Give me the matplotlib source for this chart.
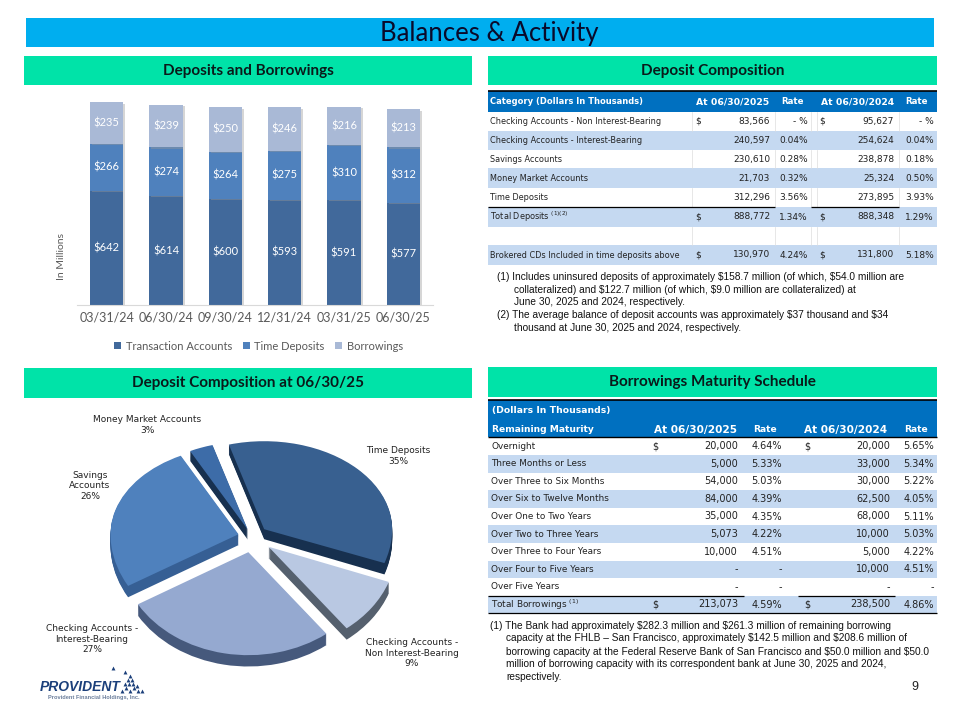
import numpy as np
import matplotlib
matplotlib.use('Agg')
import matplotlib.pyplot as plt
import matplotlib.patheffects as pe
from matplotlib.patches import Rectangle

# bar chart data
dates = ['03/31/24', '06/30/24', '09/30/24', '12/31/24', '03/31/25', '06/30/25']
transaction = [642, 614, 600, 593, 591, 577]
time_dep = [266, 274, 264, 275, 310, 312]
borrowings = [235, 239, 250, 246, 216, 213]

# pie data
pie_names = ['Time Deposits', 'Checking Accounts -\nNon Interest-Bearing',
             'Checking Accounts -\nInterest-Bearing', 'Savings\nAccounts', 'Money Market Accounts']
pie_vals = [35, 9, 27, 26, 3]

# deposit table
dep_header = ['Category (Dollars In Thousands)', 'At 06/30/2025', 'Rate', 'At 06/30/2024', 'Rate']
dep_names = ['Checking Accounts - Non Interest-Bearing', 'Checking Accounts - Interest-Bearing',
             'Savings Accounts', 'Money Market Accounts', 'Time Deposits', 'Total Deposits $^{(1)(2)}$',
             '', 'Brokered CDs Included in time deposits above']
dep_2025 = ['83,566', '240,597', '230,610', '21,703', '312,296', '888,772', '', '130,970']
dep_rate25 = ['- %', '0.04%', '0.28%', '0.32%', '3.56%', '1.34%', '', '4.24%']
dep_2024 = ['95,627', '254,624', '238,878', '25,324', '273,895', '888,348', '', '131,800']
dep_rate24 = ['- %', '0.04%', '0.18%', '0.50%', '3.93%', '1.29%', '', '5.18%']
dep_dollar = [0, 5, 7]

# borrowings table
bor_header = ['Remaining Maturity', 'At 06/30/2025', 'Rate', 'At 06/30/2024', 'Rate']
bor_names = ['Overnight', 'Three Months or Less', 'Over Three to Six Months', 'Over Six to Twelve Months',
             'Over One to Two Years', 'Over Two to Three Years', 'Over Three to Four Years',
             'Over Four to Five Years', 'Over Five Years', 'Total Borrowings $^{(1)}$']
bor_2025 = ['20,000', '5,000', '54,000', '84,000', '35,000', '5,073', '10,000', '-', '-', '213,073']
bor_rate25 = ['4.64%', '5.33%', '5.03%', '4.39%', '4.35%', '4.22%', '4.51%', '-', '-', '4.59%']
bor_2024 = ['20,000', '33,000', '30,000', '62,500', '68,000', '10,000', '5,000', '10,000', '-', '238,500']
bor_rate24 = ['5.65%', '5.34%', '5.22%', '4.05%', '5.11%', '5.03%', '4.22%', '4.51%', '-', '4.86%']
bor_dollar = [0, 9]

dep_notes = ['(1) Includes uninsured deposits of approximately \\$158.7 million (of which, \\$54.0 million are',
             'collateralized) and \\$122.7 million (of which, \\$9.0 million are collateralized) at',
             'June 30, 2025 and 2024, respectively.',
             '(2) The average balance of deposit accounts was approximately \\$37 thousand and \\$34',
             'thousand at June 30, 2025 and 2024, respectively.']
bor_notes = ['(1) The Bank had approximately \\$282.3 million and \\$261.3 million of remaining borrowing',
             'capacity at the FHLB \u2013 San Francisco, approximately \\$142.5 million and \\$208.6 million of',
             'borrowing capacity at the Federal Reserve Bank of San Francisco and \\$50.0 million and \\$50.0',
             'million of borrowing capacity with its correspondent bank at June 30, 2025 and 2024,',
             'respectively.']

BAND = '#c5d9f1'
HEAD = '#0070c0'
GREEN = '#00e3a8'
INK = '#222222'

fig = plt.figure(figsize=(9.6, 7.2), dpi=100)

# full page axes in pixels, for the boxes, tables and notes
page = fig.add_axes([0, 0, 1, 1], zorder=0)
page.set_xlim(0, 960)
page.set_ylim(720, 0)
page.axis('off')


def box(x0, y0, x1, y1, color):
    page.add_patch(Rectangle((x0, y0), x1 - x0, y1 - y0, fc=color, ec='none'))


def hline(x0, x1, y, lw=1.0, color='black'):
    page.plot([x0, x1], [y, y], color=color, lw=lw, solid_capstyle='butt')


def notes(lines, y_list, x_first, x_rest):
    for line, y in zip(lines, y_list):
        x = x_first if line.startswith('(') else x_rest
        page.text(x, y, line, fontsize=7.3, family='Liberation Sans', va='center', color='#111111')


# title and section headers
box(26, 18, 934, 47, '#00aeef')
page.text(489, 33, 'Balances & Activity', fontsize=18.5, family='Lato', ha='center', va='center', color='#0a0a2a')
for x0, x1, y0, y1, name in [(24, 472, 56, 85, 'Deposits and Borrowings'),
                             (488, 937, 56, 85, 'Deposit Composition'),
                             (24, 472, 368, 398, 'Deposit Composition at 06/30/25'),
                             (488, 937, 367, 397, 'Borrowings Maturity Schedule')]:
    box(x0, y0, x1, y1, GREEN)
    page.text((x0 + x1) / 2, (y0 + y1) / 2, name, fontsize=11, family='Lato', weight='bold',
              ha='center', va='center', color='#0a1a1a')

# deposit composition table
box(488, 91, 937, 112, HEAD)
hline(488, 937, 91, 1.2)
for x, h, ha, fs in zip([490, 733, 792, 858, 917], dep_header, ['left'] + ['center'] * 4, [6, 6.7, 6.2, 6.7, 6.2]):
    page.text(x, 102, h, fontsize=fs, weight='bold', color='white', ha=ha, va='center')
dep_edges = [112, 130.7, 150, 168.3, 188, 207.3, 226.7, 245, 265]
for i, name in enumerate(dep_names):
    y0, y1 = dep_edges[i], dep_edges[i + 1]
    y = (y0 + y1) / 2
    if i % 2 == 1:
        box(488, y0, 937, y1, BAND)
    else:
        for x in [692, 775, 811, 817, 899]:
            page.plot([x, x], [y0, y1], color='#dddddd', lw=0.5)
    page.text(490, y, name, fontsize=5.9, va='center', color=INK)
    page.text(770, y, dep_2025[i], fontsize=6.5, ha='right', va='center', color=INK)
    page.text(808, y, dep_rate25[i], fontsize=6.5, ha='right', va='center', color=INK)
    page.text(894, y, dep_2024[i], fontsize=6.5, ha='right', va='center', color=INK)
    page.text(934, y, dep_rate24[i], fontsize=6.5, ha='right', va='center', color=INK)
    if i in dep_dollar:
        page.text(698, y, '\\$', fontsize=6.5, ha='center', va='center', color=INK)
        page.text(822, y, '\\$', fontsize=6.5, ha='center', va='center', color=INK)
hline(488, 775, 207.3, 0.9)
hline(811, 899, 207.3, 0.9)
notes(dep_notes, [276.7, 290, 302.3, 315, 328.3], 497, 514)

# borrowings table
box(488, 400, 937, 437.3, HEAD)
hline(488, 937, 400, 1.2)
hline(488, 937, 437.3, 1.0)
page.text(492, 411, '(Dollars In Thousands)', fontsize=6.7, weight='bold', color='white', va='center')
for x, h, ha, fs in zip([492, 696, 765, 846, 916], bor_header, ['left'] + ['center'] * 4, [6.6, 7.6, 6.6, 7.6, 6.6]):
    page.text(x, 430, h, fontsize=fs, weight='bold', color='white', ha=ha, va='center')
row_h = 17.6
for i, name in enumerate(bor_names):
    y0 = 437.3 + i * row_h
    y = y0 + row_h / 2
    if i % 2 == 1:
        box(488, y0, 937, y0 + row_h, BAND)
    page.text(491, y, name, fontsize=6.4, va='center', color=INK)
    page.text(738, y, bor_2025[i], fontsize=7, ha='right', va='center', color=INK)
    page.text(782, y, bor_rate25[i], fontsize=7, ha='right', va='center', color=INK)
    page.text(890, y, bor_2024[i], fontsize=7, ha='right', va='center', color=INK)
    page.text(934, y, bor_rate24[i], fontsize=7, ha='right', va='center', color=INK)
    if i in bor_dollar:
        page.text(655, y, '\\$', fontsize=7, ha='center', va='center', color=INK)
        page.text(807, y, '\\$', fontsize=7, ha='center', va='center', color=INK)
hline(488, 744, 437.3 + 9 * row_h, 0.9)
hline(798, 895, 437.3 + 9 * row_h, 0.9)
hline(488, 937, 437.3 + 10 * row_h, 0.9)
notes(bor_notes, [625.7, 638.3, 651.7, 664, 676.7], 490, 506)

page.text(915, 687, '9', fontsize=9, family='Liberation Sans', ha='center', va='center', color=INK)
page.text(62, 256, 'In Millions', fontsize=7.5, family='Lato', rotation=90, ha='center', va='center', color='#595959')

# stacked bars
ax = fig.add_axes([77 / 960, 1 - 305 / 720, 356 / 960, 213 / 720], zorder=1)
ax.patch.set_alpha(0)
x_pos = np.arange(len(dates))
series = [('Transaction Accounts', transaction, '#41699b'),
          ('Time Deposits', time_dep, '#4f81bd'),
          ('Borrowings', borrowings, '#a9b9d6')]
bottom = np.zeros(len(dates))
all_bars = []
for name, vals, col in series:
    bars = ax.bar(x_pos, vals, 0.56, bottom=bottom, color=col, label=name)
    all_bars.extend(bars)
    for x, v, b0 in zip(x_pos, vals, bottom):
        ax.text(x, b0 + v / 2, '\\$%d' % v, color='white', fontsize=8, family='Lato', ha='center', va='center')
    bottom = bottom + np.array(vals)
ax.set_xlim(-0.5, 5.5)
ax.set_ylim(0, 1200)
ax.set_yticks([])
ax.set_xticks(x_pos)
ax.set_xticklabels(dates, fontsize=9, family='Lato', color='#595959')
ax.tick_params(axis='x', length=0, pad=5)
for s in ['top', 'left', 'right']:
    ax.spines[s].set_visible(False)
ax.spines['bottom'].set_color('#d9d9d9')
ax.legend(loc='upper center', bbox_to_anchor=(0.51, -0.12), ncol=3, frameon=False, handlelength=0.6,
          handleheight=0.6, handletextpad=0.4, columnspacing=1.0, prop={'family': 'Lato', 'size': 8},
          labelcolor='#595959')
# shadow goes on after the legend so the legend keys stay clean
for b in all_bars:
    b.set_path_effects([pe.SimplePatchShadow(offset=(1.5, -1), shadow_rgbFace='#999999', alpha=0.4), pe.Normal()])

# exploded pie, squashed and stacked to give it some depth
pie_ax = fig.add_axes([(252 - 1.4 * 128) / 960, 1 - (537 + 1.4 * 100) / 720, 2.8 * 128 / 960, 2.8 * 100 / 720], zorder=1)
explode = [0.13, 0.16, 0.15, 0.11, 0.09]
tops = ['#386090', '#b9c8e2', '#95a9d0', '#4f81bd', '#3d6ca8']
sides = ['#17304f', '#55606e', '#46597c', '#365f94', '#17304f']
for d in np.linspace(0.11, 0.01, 11):
    pie_ax.pie(pie_vals, explode=explode, colors=sides, startangle=106, counterclock=False,
               center=(0, -d), wedgeprops={'linewidth': 0})
pie_ax.pie(pie_vals, explode=explode, colors=tops, startangle=106, counterclock=False,
           wedgeprops={'linewidth': 0})
pie_ax.set_aspect('auto')


# back of the pie looks shorter than the front
def persp(y):
    y = np.asarray(y, dtype=float)
    return np.where(y >= 0, y * 0.88, y * 1.03)


def persp_inv(y):
    y = np.asarray(y, dtype=float)
    return np.where(y >= 0, y / 0.88, y / 1.03)


pie_ax.set_yscale('function', functions=(persp, persp_inv))
pie_ax.set_xlim(-1.4, 1.4)
pie_ax.set_ylim(persp_inv(-1.4), persp_inv(1.4))
pie_ax.set_xticks([])
pie_ax.set_yticks([])
pie_ax.minorticks_off()

label_pos = [(398, 456), (412, 653), (92, 639), (90, 486), (147, 425)]
for name, v, (x, y) in zip(pie_names, pie_vals, label_pos):
    page.text(x, y, '%s\n%d%%' % (name, v), fontsize=6.5, ha='center', va='center', linespacing=1.15, color=INK)

# logo
page.text(40, 687, 'PROVIDENT', fontsize=10, family='Liberation Sans', weight='bold',
          style='italic', va='center', color='#1b3f7a')
page.text(48, 698, 'Provident Financial Holdings, Inc.', fontsize=4.1, family='Liberation Sans', weight='bold',
          va='center', color='#6c7f9c')
logo_x = [122, 126, 130, 134, 138, 142, 125, 129, 133, 137, 128, 132, 130, 125, 113]
logo_y = [691, 688, 691, 688, 691, 691, 684, 684, 684, 686, 680, 680, 676, 672, 668]
page.scatter(logo_x, logo_y, s=8, marker='^', color='#1b3f7a', linewidths=0)

fig.savefig('out.png', dpi=100)
